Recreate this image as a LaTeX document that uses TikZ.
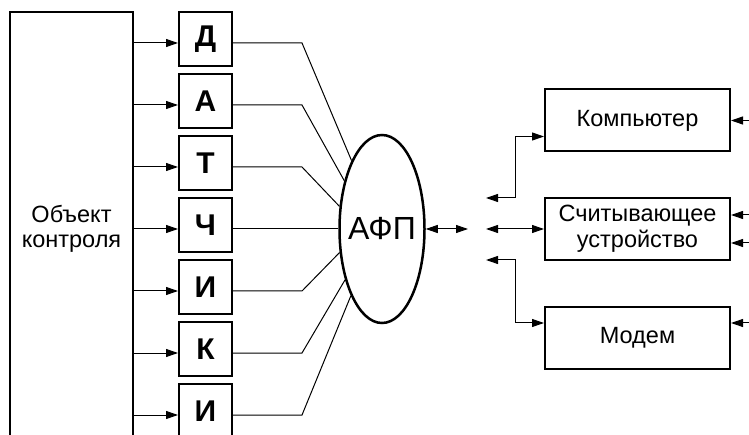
\documentclass[tikz,border=0pt]{standalone}
\usepackage{fontspec}
\setmainfont{Liberation Sans}
\usetikzlibrary{shapes.geometric,arrows.meta}
\begin{document}
\begin{tikzpicture}[x=1pt,y=-1pt,
  conn/.style={line width=1pt},
  tip/.tip={Triangle[length=12pt,width=8pt]},
  arr/.style={conn,-tip},
  darr/.style={conn,tip-tip},
  sbox/.style={draw,line width=2pt,minimum width=53pt,minimum height=54pt,inner sep=0pt,font=\fontsize{30}{32}\selectfont\bfseries},
  rbox/.style={draw,line width=2pt,minimum width=185pt,minimum height=62pt,inner sep=0pt,align=center,font=\fontsize{23.5}{26}\selectfont},
]
\useasboundingbox (0,0) rectangle (749,435);
\clip (0,0) rectangle (749,435);

\node[draw,line width=2pt,minimum width=123pt,minimum height=434pt,inner sep=0pt,align=center,font=\fontsize{23.5}{25}\selectfont] (obj) at (71.5,229) {Объект\\контроля};

\node[sbox] (d1) at (205.5,39)  {Д};
\node[sbox] (d2) at (205.5,101) {А};
\node[sbox] (d3) at (205.5,163) {Т};
\node[sbox] (d4) at (205.5,225) {Ч};
\node[sbox] (d5) at (205.5,287) {И};
\node[sbox] (d6) at (205.5,349) {К};
\node[sbox] (d7) at (205.5,411) {И};

\node[ellipse,draw,line width=2.5pt,minimum width=85pt,minimum height=188pt,inner sep=0pt,
  label={[font=\fontsize{32}{36}\selectfont,inner sep=0pt]center:АФП}] (afp) at (382,229) {};

\foreach \i in {1,...,7}{
  \draw[arr] ([yshift=-4pt]d\i.west -| obj.east) -- ([yshift=-4pt]d\i.west);
}

\draw[conn] ([yshift=-4pt]d1.east) -- ++(69,0) -- (afp.114.5);
\draw[conn] ([yshift=-4pt]d2.east) -- ++(69,0) -- (afp.128.5);
\draw[conn] ([yshift=-4pt]d3.east) -- ++(69,0) -- (afp.152.4);
\draw[conn] ([yshift=-4pt]d4.east) -- (afp.180);
\draw[conn] ([yshift=-4pt]d5.east) -- ++(69,0) -- (afp.209.7);
\draw[conn] ([yshift=-4pt]d6.east) -- ++(69,0) -- (afp.234.9);
\draw[conn] ([yshift=-4pt]d7.east) -- ++(69,0) -- (afp.245);

\node[rbox] (pc) at (637.5,120.5) {Компьютер};
\node[rbox] (rd) at (637.5,229) {Считывающее\\устройство};
\node[rbox] (mo) at (637.5,338) {Модем};

\coordinate (afpout) at (468,229);
\draw[darr] (afp.east) -- (afpout);

\coordinate (u) at (486,198);
\coordinate (m) at (486,229);
\coordinate (l) at (486,260);
\draw[darr] (u) -- ++(29,0) |- ([yshift=-16pt]pc.west);
\draw[darr] (m) -- (rd.west);
\draw[darr] (l) -- ++(29,0) |- ([yshift=15pt]mo.west);

\coordinate (e1) at (760,120.5);
\coordinate (e2) at (760,215);
\coordinate (e3) at (760,243);
\coordinate (e4) at (760,323);
\draw[arr] (e1) -- (pc.east);
\draw[arr] (e2) -- (e2 -| rd.east);
\draw[arr] (e3) -- (e3 -| rd.east);
\draw[arr] (e4) -- (e4 -| mo.east);
\end{tikzpicture}
\end{document}
